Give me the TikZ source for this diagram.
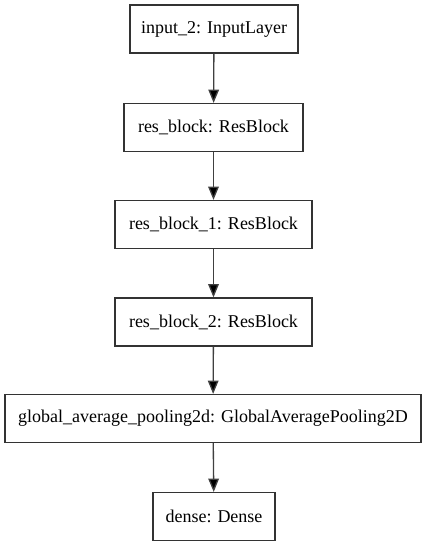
\documentclass[tikz,border=0pt]{standalone}
\usepackage{fontspec}
\setmainfont{Liberation Serif}
\usepackage{tikz}
\usetikzlibrary{arrows.meta}
\usetikzlibrary{positioning}

\tikzset{
  layer/.style={draw=black!80, line width=0.9pt, rectangle, minimum height=36pt,
    inner sep=0pt, font=\fontsize{13.5}{16}\selectfont},
  flow/.style={draw=black!75, line width=1pt,
    -{Triangle[length=10pt, width=8pt, fill=black]}}
}

\begin{document}
\begin{tikzpicture}[x=0.75pt, y=-0.75pt]

    \useasboundingbox (0, 0) rectangle (428, 547);

    \node [layer, minimum width=126pt] (input) at (214, 29) {input\_2: InputLayer};
    \node [layer, minimum width=134.25pt] (res0) at (213.5, 127.5) {res\_block: ResBlock};
    \node [layer, minimum width=147.75pt] (res1) at (213.5, 224.5) {res\_block\_1: ResBlock};
    \node [layer, minimum width=147.75pt] (res2) at (213.5, 322) {res\_block\_2: ResBlock};
    \node [layer, minimum width=312pt] (gap) at (213, 418.5)
      {global\_average\_pooling2d: GlobalAveragePooling2D};
    \node [layer, minimum width=91.5pt] (dense) at (214, 516.5) {dense: Dense};

    \draw [flow] (input) -- (res0);
    \draw [flow] (res0) -- (res1);
    \draw [flow] (res1) -- (res2);
    \draw [flow] (res2) -- (gap);
    \draw [flow] (gap) -- (dense);

  \end{tikzpicture}
\end{document}
